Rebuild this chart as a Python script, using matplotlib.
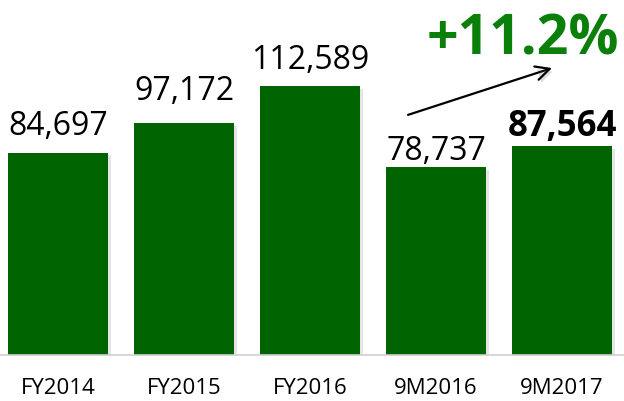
import matplotlib
matplotlib.use('Agg')
from matplotlib import pyplot as plt
import matplotlib.patheffects as pe

periods = ['FY2014', 'FY2015', 'FY2016', '9M2016', '9M2017']
revenue = [84697, 97172, 112589, 78737, 87564]
growth_label = '+11.2%'

# gap in pixels between bar top and value label baseline
label_gap = [19, 24, 18, 8, 11]

plt.rcParams['font.family'] = ['Open Sans', 'DejaVu Sans']

fig = plt.figure(figsize=(6.24, 4.02), dpi=100)
ax = fig.add_axes([0, 46 / 402, 1, 356 / 402])

x = range(len(periods))
shadow = [pe.SimplePatchShadow(offset=(2, -2), shadow_rgbFace='#999999', alpha=0.25), pe.Normal()]
bars = ax.bar(x, revenue, width=0.794, color='#006400', zorder=2)
for b in bars:
    b.set_path_effects(shadow)

ax.set_xlim(-58 / 126, 566 / 126)
ax.set_ylim(0, 149000)

for i, v in enumerate(revenue):
    last = i == len(revenue) - 1
    ax.annotate(f'{v:,}', (i, v), xytext=(0, label_gap[i]), textcoords='offset pixels',
                ha='center', va='baseline', fontsize=25 if last else 23,
                fontweight='bold' if last else 'normal', color='black')

# growth arrow from 9M2016 towards 9M2017
ax.annotate('', xy=(3.921, 120100), xytext=(2.778, 100500),
            arrowprops=dict(arrowstyle='->,head_length=1.0,head_width=0.5', lw=1.6, color='black',
                            shrinkA=0, shrinkB=0,
                            path_effects=[pe.SimplePatchShadow(offset=(2, -2), alpha=0.2), pe.Normal()]))
ax.text(3.69, 126300, growth_label, ha='center', va='baseline', fontsize=40,
        fontweight='bold', color='#0a800a')

ax.set_xticks(list(x))
ax.set_xticklabels(periods, fontsize=16)
ax.tick_params(axis='x', length=0, pad=16)
ax.set_yticks([])
for s in ['top', 'right', 'left']:
    ax.spines[s].set_visible(False)
ax.spines['bottom'].set_color('#d0d0d0')
ax.spines['bottom'].set_linewidth(1.2)

fig.savefig('out.png', dpi=100)
